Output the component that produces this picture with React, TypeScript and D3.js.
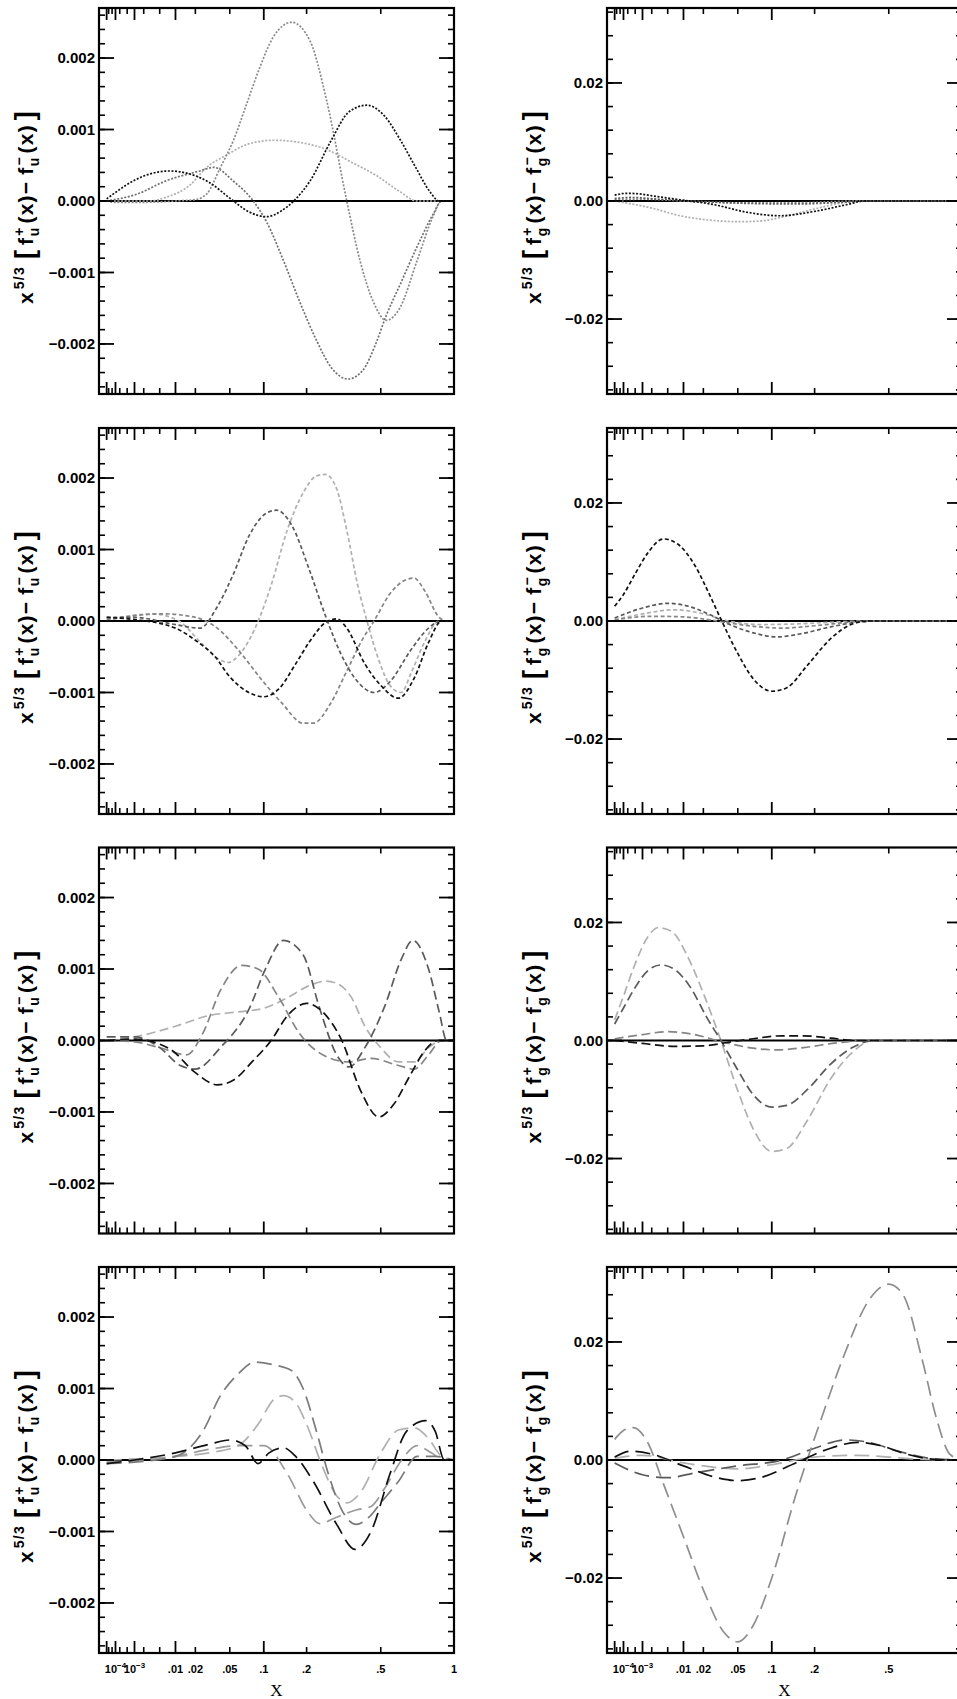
import React from "react";
import * as d3 from "d3";

// ---------- data (x, value) ----------
// Row 1 : dotted, u-quark (left) and gluon (right)
const r1uBlack = [[1e-5, 0.00003], [1e-4, 0.00012], [1e-3, 0.00029], [3e-3, 0.00038], [0.008, 0.00042], [0.015, 0.00039], [0.03, 0.00026], [0.05, 0.00004], [0.075, -0.00015], [0.105, -0.00022], [0.135, -0.00014], [0.165, 0], [0.21, 0.00028], [0.28, 0.00085], [0.35, 0.00125], [0.43, 0.00134], [0.52, 0.00119], [0.61, 0.00086], [0.71, 0.00047], [0.81, 0.00013], [0.88, 0], [1, 0]];
const r1uPeak = [[1e-5, 0], [1e-4, -0.00002], [1e-3, -0.00002], [0.01, 0], [0.02, 0.00002], [0.028, 0.0001], [0.04, 0.00047], [0.054, 0.00084], [0.072, 0.00136], [0.093, 0.00187], [0.118, 0.00229], [0.16, 0.0025], [0.21, 0.00224], [0.264, 0.0014], [0.34, 0], [0.397, -0.00083], [0.46, -0.0014], [0.53, -0.00167], [0.61, -0.00149], [0.72, -0.00083], [0.83, -0.00023], [0.9, 0], [1, 0]];
const r1uTrough = [[1e-5, 0], [1.3e-3, 0.0001], [0.0066, 0.00028], [0.023, 0.00042], [0.034, 0.00047], [0.054, 0.00028], [0.082, 0], [0.105, -0.00029], [0.14, -0.00083], [0.18, -0.0014], [0.23, -0.00195], [0.28, -0.00233], [0.345, -0.00249], [0.41, -0.00237], [0.475, -0.00199], [0.53, -0.0016], [0.61, -0.00117], [0.717, -0.00065], [0.835, -0.00018], [0.9, 0], [1, 0]];
const r1uLight = [[1e-5, 0], [3e-3, 0], [0.0066, 0.00005], [0.0167, 0.00022], [0.0279, 0.00047], [0.0473, 0.00065], [0.072, 0.00079], [0.118, 0.00085], [0.18, 0.00082], [0.264, 0.00072], [0.361, 0.00054], [0.475, 0.00036], [0.61, 0.00013], [0.717, 0], [1, 0]];

const r1gBlack = [[1e-5, 0.001], [1.7e-4, 0.0013], [8e-4, 0.0012], [2.2e-3, 0.00085], [8.7e-3, 0.0002], [0.027, -0.0006], [0.061, -0.0019], [0.116, -0.0025], [0.196, -0.0018], [0.31, -0.0006], [0.38, 0], [1, 0]];
const r1gLight = [[1e-5, 0], [2e-3, -0.0012], [8.7e-3, -0.0025], [0.027, -0.0033], [0.05, -0.0035], [0.08, -0.0034], [0.116, -0.0028], [0.196, -0.0014], [0.31, -0.0002], [0.38, 0], [1, 0]];
const r1gDark = [[1e-5, 0.0004], [3e-4, 0.0006], [3e-3, 0.0003], [0.02, -0.0001], [0.06, -0.0004], [0.15, -0.0005], [0.3, -0.0002], [0.4, 0], [1, 0]];
const r1gMid = [[1e-5, 0.0002], [1e-3, 0.0003], [0.01, 0], [0.05, -0.0003], [0.15, -0.0003], [0.35, 0], [1, 0]];

// Row 2 : short dashes
const r2uBlack = [[1e-5, 0.00005], [1e-3, 0.00002], [0.01, -0.0001], [0.02, -0.00027], [0.035, -0.0005], [0.05, -0.00078], [0.075, -0.001], [0.1, -0.00106], [0.13, -0.00095], [0.17, -0.0006], [0.21, -0.00028], [0.26, -0.00002], [0.3, 0.00003], [0.34, -0.0001], [0.42, -0.0006], [0.5, -0.0009], [0.6, -0.00108], [0.7, -0.0008], [0.8, -0.0003], [0.9, 0], [1, 0]];
const r2uDark = [[1e-5, 0.00005], [1e-3, 0.00005], [0.01, -0.00005], [0.023, -0.0001], [0.037, 0.0002], [0.054, 0.00065], [0.076, 0.0012], [0.103, 0.0015], [0.125, 0.00155], [0.16, 0.00134], [0.207, 0.00073], [0.259, 0.00008], [0.319, -0.00048], [0.387, -0.00085], [0.465, -0.001], [0.55, -0.00085], [0.68, -0.0004], [0.8, -0.0001], [0.9, 0], [1, 0]];
const r2uMid = [[1e-5, 0.00002], [5.8e-3, 0.0001], [0.02, 0.00005], [0.037, -0.0001], [0.06, -0.0004], [0.094, -0.0008], [0.137, -0.00115], [0.19, -0.00143], [0.22, -0.00143], [0.278, -0.00115], [0.34, -0.0007], [0.41, -0.00025], [0.465, 0], [0.55, 0.00038], [0.65, 0.00058], [0.7, 0.0006], [0.77, 0.00043], [0.88, 0.00005], [0.94, 0], [1, 0]];
const r2uLight = [[1e-5, 0], [3.3e-3, 0.0001], [0.0114, 0], [0.0234, -0.0003], [0.037, -0.00052], [0.048, -0.00058], [0.061, -0.00048], [0.085, -0.0001], [0.114, 0.0005], [0.149, 0.00127], [0.191, 0.0018], [0.23, 0.00203], [0.259, 0.00205], [0.298, 0.00187], [0.34, 0.00127], [0.387, 0.0005], [0.43, 0], [0.49, -0.00055], [0.55, -0.0009], [0.616, -0.001], [0.685, -0.0007], [0.77, -0.0003], [0.88, 0], [1, 0]];

const r2gBlack = [[1e-5, 0.0025], [1e-4, 0.0045], [5e-4, 0.008], [1.5e-3, 0.0115], [4e-3, 0.0139], [8e-3, 0.013], [0.015, 0.0095], [0.025, 0.004], [0.035, -0.0005], [0.05, -0.0055], [0.07, -0.0098], [0.1, -0.0119], [0.13, -0.0113], [0.18, -0.0075], [0.25, -0.003], [0.33, -0.0005], [0.4, 0], [1, 0]];
const r2gDark = [[1e-5, 0.0005], [1e-3, 0.0022], [5e-3, 0.003], [0.012, 0.0025], [0.025, 0.001], [0.04, -0.0005], [0.07, -0.002], [0.11, -0.0027], [0.16, -0.0022], [0.25, -0.001], [0.35, -0.0002], [0.45, 0], [1, 0]];
const r2gLight = [[1e-5, 0.0002], [1e-3, 0.0012], [7e-3, 0.0019], [0.02, 0.0012], [0.04, 0], [0.08, -0.0006], [0.15, -0.0005], [0.3, -0.0001], [0.4, 0], [1, 0]];
const r2gMid = [[1e-5, 0.0002], [2e-3, 0.0008], [0.01, 0.0007], [0.03, 0], [0.07, -0.0009], [0.12, -0.0012], [0.2, -0.0008], [0.35, -0.0001], [0.45, 0], [1, 0]];

// Row 3 : medium dashes
const r3uBlack = [[1e-5, 0], [1e-3, 0.00002], [0.008, -0.00012], [0.02, -0.00045], [0.037, -0.00062], [0.055, -0.00055], [0.08, -0.0003], [0.114, 0], [0.15, 0.00035], [0.2, 0.00052], [0.25, 0.0004], [0.32, 0], [0.4, -0.0007], [0.49, -0.00107], [0.57, -0.0009], [0.67, -0.0005], [0.77, -0.00015], [0.87, 0], [1, 0]];
const r3uDark = [[1e-5, 0.00005], [1e-3, 0.00005], [0.005, -0.0001], [0.012, -0.00035], [0.02, -0.0004], [0.04, -0.0001], [0.076, 0.00045], [0.103, 0.001], [0.14, 0.0014], [0.19, 0.0012], [0.24, 0.00045], [0.3, -0.0002], [0.35, -0.00037], [0.42, -0.0001], [0.52, 0.00047], [0.62, 0.00115], [0.69, 0.0014], [0.8, 0.001], [0.88, 0.0004], [0.94, 0], [1, 0]];
const r3uMid = [[1e-5, 0], [1e-3, -0.00002], [0.005, -0.0001], [0.015, -0.0002], [0.025, 0.0001], [0.04, 0.0007], [0.065, 0.00105], [0.09, 0.001], [0.13, 0.0006], [0.18, 0.0001], [0.25, -0.0002], [0.35, -0.0003], [0.45, -0.00025], [0.6, -0.00035], [0.7, -0.0004], [0.8, -0.0002], [0.9, 0], [1, 0]];
const r3uLight = [[1e-5, 0], [1e-3, 0.00005], [0.01, 0.0002], [0.03, 0.00035], [0.06, 0.0004], [0.1, 0.00045], [0.15, 0.0006], [0.2, 0.00075], [0.26, 0.00083], [0.3, 0.0008], [0.36, 0.0006], [0.42, 0.0002], [0.5, -0.0001], [0.6, -0.0003], [0.7, -0.0003], [0.8, -0.0001], [0.9, 0], [1, 0]];

const r3gLight = [[1e-5, 0.0035], [1e-4, 0.0075], [5e-4, 0.013], [1.5e-3, 0.0175], [3e-3, 0.0191], [6e-3, 0.0185], [0.012, 0.014], [0.02, 0.008], [0.033, 0], [0.05, -0.0085], [0.07, -0.015], [0.1, -0.0188], [0.13, -0.0183], [0.18, -0.0135], [0.25, -0.0065], [0.33, -0.002], [0.42, 0], [1, 0]];
const r3gDark = [[1e-5, 0.0028], [1e-4, 0.0055], [5e-4, 0.009], [1.5e-3, 0.0118], [3.5e-3, 0.0128], [7e-3, 0.012], [0.013, 0.009], [0.022, 0.004], [0.033, 0], [0.05, -0.005], [0.07, -0.0092], [0.1, -0.0113], [0.13, -0.011], [0.18, -0.0083], [0.25, -0.004], [0.33, -0.0012], [0.42, 0], [1, 0]];
const r3gMid = [[1e-5, 0.0003], [1e-3, 0.001], [5e-3, 0.0015], [0.015, 0.001], [0.03, 0], [0.07, -0.0013], [0.11, -0.0016], [0.17, -0.0012], [0.27, -0.0004], [0.38, 0], [1, 0]];
const r3gBlack = [[1e-5, 0], [1e-3, -0.0005], [7e-3, -0.001], [0.02, -0.0009], [0.04, -0.0003], [0.07, 0.0003], [0.12, 0.0008], [0.17, 0.0008], [0.25, 0.0004], [0.35, 0], [1, 0]];

// Row 4 : long dashes
const r4uMid = [[1e-5, -0.00005], [1e-3, -0.00003], [0.01, 0.00005], [0.025, 0.0004], [0.04, 0.0009], [0.06, 0.0012], [0.085, 0.00137], [0.12, 0.00133], [0.16, 0.00125], [0.19, 0.001], [0.23, 0.0004], [0.27, -0.0002], [0.32, -0.0007], [0.38, -0.0009], [0.44, -0.0008], [0.5, -0.0006], [0.6, -0.0003], [0.72, 0.00005], [0.85, 0.00005], [1, 0]];
const r4uBlack = [[1e-5, -0.00005], [1e-3, 0], [0.01, 0.0001], [0.03, 0.00022], [0.05, 0.00028], [0.07, 0.0002], [0.09, -0.00005], [0.11, 0.0001], [0.14, 0.00017], [0.17, 0.00005], [0.22, -0.0003], [0.3, -0.0009], [0.375, -0.00125], [0.45, -0.001], [0.55, -0.0002], [0.65, 0.0004], [0.78, 0.00055], [0.85, 0.0004], [0.92, 0], [1, 0]];
const r4uLight = [[1e-5, 0], [0.01, 0.00005], [0.03, 0.0001], [0.06, 0.0002], [0.09, 0.0005], [0.12, 0.00085], [0.14, 0.0009], [0.17, 0.0008], [0.2, 0.0005], [0.25, -0.0001], [0.3, -0.0005], [0.34, -0.0006], [0.4, -0.00045], [0.5, 0.0001], [0.6, 0.00042], [0.7, 0.00045], [0.8, 0.0003], [0.9, 0.00005], [1, 0]];
const r4uGrey = [[1e-5, -0.00003], [0.01, 0.00005], [0.03, 0.00015], [0.06, 0.0002], [0.1, 0.0002], [0.15, -0.0002], [0.2, -0.0007], [0.24, -0.00089], [0.3, -0.0008], [0.38, -0.0007], [0.45, -0.00065], [0.52, -0.0004], [0.62, 0], [0.72, 0.0002], [0.82, 0.0001], [0.92, 0], [1, 0]];

const r4gBig = [[1e-5, 0.0035], [1e-4, 0.005], [4e-4, 0.0055], [1.5e-3, 0.003], [4e-3, -0.004], [0.01, -0.013], [0.02, -0.022], [0.035, -0.029], [0.05, -0.0308], [0.07, -0.028], [0.1, -0.02], [0.15, -0.006], [0.22, 0.007], [0.3, 0.018], [0.4, 0.027], [0.5, 0.0298], [0.58, 0.028], [0.7, 0.017], [0.8, 0.007], [0.9, 0.001], [1, 0]];
const r4gBlack = [[1e-5, 0.0005], [3e-4, 0.0015], [2e-3, 0.001], [0.01, -0.001], [0.03, -0.003], [0.05, -0.0035], [0.08, -0.003], [0.15, -0.0005], [0.25, 0.002], [0.35, 0.003], [0.45, 0.0025], [0.6, 0.001], [0.75, 0.0002], [0.9, 0], [1, 0]];
const r4gDark = [[1e-5, -0.0005], [1e-3, -0.0025], [5e-3, -0.003], [0.015, -0.0022], [0.05, -0.001], [0.12, 0], [0.2, 0.002], [0.3, 0.0034], [0.4, 0.003], [0.55, 0.0015], [0.75, 0.0003], [1, 0]];
const r4gLight = [[1e-5, 0.0003], [1e-3, 0.0008], [0.01, -0.0005], [0.05, -0.0015], [0.1, -0.0008], [0.2, 0.0005], [0.35, 0.0008], [0.5, 0.0005], [0.7, 0.0001], [1, 0]];

// ---------- axes ----------
const xMajorTicks = [1e-5, 1e-4, 1e-3, 0.01, 0.1];
const xMinorTicks = [2e-5, 5e-5, 2e-4, 5e-4, 2e-3, 5e-3, 0.02, 0.05, 0.2, 0.5];
const xTickLabels = [
  { v: 1e-4, t: "10", sup: "−4" },
  { v: 1e-3, t: "10", sup: "−3" },
  { v: 0.01, t: ".01" },
  { v: 0.02, t: ".02" },
  { v: 0.05, t: ".05" },
  { v: 0.1, t: ".1" },
  { v: 0.2, t: ".2" },
  { v: 0.5, t: ".5" },
  { v: 1, t: "1" },
];
const uLimit = 0.0027;
const uMajor = [-0.002, -0.001, 0, 0.001, 0.002];
const uMajorLabels = ["−0.002", "−0.001", "0.000", "0.001", "0.002"];
const gLimit = 0.0327;
const gMajor = [-0.02, 0, 0.02];
const gMajorLabels = ["−0.02", "0.00", "0.02"];

const BLACK = "#111111";
const DARK = "#5a5a5a";
const MID = "#858585";
const LIGHT = "#b0b0b0";

const DASHES = ["2,1.6", "4,2.6", "9,4.5", "15,7"];

const panels = [
  { row: 0, col: 0, series: [[r1uLight, LIGHT], [r1uTrough, "#707070"], [r1uPeak, "#8a8a8a"], [r1uBlack, BLACK]] },
  { row: 0, col: 1, series: [[r1gLight, LIGHT], [r1gMid, MID], [r1gDark, DARK], [r1gBlack, BLACK]] },
  { row: 1, col: 0, series: [[r2uLight, LIGHT], [r2uMid, MID], [r2uDark, DARK], [r2uBlack, BLACK]] },
  { row: 1, col: 1, series: [[r2gLight, LIGHT], [r2gMid, MID], [r2gDark, DARK], [r2gBlack, BLACK]] },
  { row: 2, col: 0, series: [[r3uLight, LIGHT], [r3uMid, MID], [r3uDark, DARK], [r3uBlack, BLACK]] },
  { row: 2, col: 1, series: [[r3gLight, LIGHT], [r3gMid, MID], [r3gDark, DARK], [r3gBlack, BLACK]] },
  { row: 3, col: 0, series: [[r4uLight, LIGHT], [r4uGrey, "#9a9a9a"], [r4uMid, "#7a7a7a"], [r4uBlack, BLACK]] },
  { row: 3, col: 1, series: [[r4gLight, LIGHT], [r4gDark, DARK], [r4gBig, "#8e8e8e"], [r4gBlack, BLACK]] },
];

// ---------- layout ----------
const W = 957;
const H = 1699;
const PW = 355;
const PH = 386;
const COL_X = [99, 607];
const ROW_Y = [8, 428, 847.5, 1267];
const FONT = "'Liberation Sans', Arial, Helvetica, sans-serif";

function YTitle({ cx, cy, flavour }: { cx: number; cy: number; flavour: string }) {
  return (
    <text
      transform={`translate(${cx},${cy}) rotate(-90)`}
      textAnchor="middle"
      fontFamily={FONT}
      fontWeight="bold"
      fontSize={21}
      letterSpacing={1.2}
      fill="#000"
    >
      <tspan>x</tspan>
      <tspan fontSize={14} dy={-9} dx={2}>5/3</tspan>
      <tspan fontSize={27} dy={10} dx={7}>[</tspan>
      <tspan dx={4} dy={-1}>f</tspan>
      <tspan fontSize={14} dy={-9} dx={1}>+</tspan>
      <tspan fontSize={14} dy={15} dx={-10}>{flavour}</tspan>
      <tspan dy={-6} dx={3}>(x)</tspan>
      <tspan>−</tspan>
      <tspan dx={6}>f</tspan>
      <tspan fontSize={14} dy={-9} dx={1}>−</tspan>
      <tspan fontSize={14} dy={15} dx={-10}>{flavour}</tspan>
      <tspan dy={-6} dx={3}>(x)</tspan>
      <tspan fontSize={27} dx={4} dy={1}>]</tspan>
    </text>
  );
}

function Panel({ p, idx }: { p: any; idx: number }) {
  const x0 = COL_X[p.col];
  const y0 = ROW_Y[p.row];
  const isU = p.col === 0;
  const lim = isU ? uLimit : gLimit;
  const xs = d3.scalePow().exponent(1 / 3).domain([0, 1]).range([x0, x0 + PW]);
  const ys = d3.scaleLinear().domain([-lim, lim]).range([y0 + PH, y0]);
  const line = d3
    .line<number[]>()
    .x((d) => xs(d[0]))
    .y((d) => ys(d[1]))
    .curve(d3.curveMonotoneX);

  const minorStep = isU ? 0.0002 : 0.004;
  const nMinor = Math.floor(lim / minorStep);
  const minor: number[] = [];
  for (let k = -nMinor; k <= nMinor; k++) minor.push(k * minorStep);
  const majors = isU ? uMajor : gMajor;
  const majorLabels = isU ? uMajorLabels : gMajorLabels;
  const clipId = `clip${idx}`;
  const bottomRow = p.row === 3;

  return (
    <g>
      <defs>
        <clipPath id={clipId}>
          <rect x={x0} y={y0} width={PW} height={PH} />
        </clipPath>
      </defs>
      <g clipPath={`url(#${clipId})`}>
        <line x1={xs(0)} x2={xs(1)} y1={ys(0)} y2={ys(0)} stroke="#000" strokeWidth={2.2} />
        {p.series.map((s: any, i: number) => (
          <path
            key={i}
            d={line(s[0]) || ""}
            fill="none"
            stroke={s[1]}
            strokeWidth={1.7}
            strokeDasharray={DASHES[p.row]}
          />
        ))}
      </g>
      {minor.map((v, i) => (
        <g key={"ym" + i}>
          <line x1={x0} x2={x0 + 6} y1={ys(v)} y2={ys(v)} stroke="#000" strokeWidth={1.6} />
          <line x1={x0 + PW} x2={x0 + PW - 6} y1={ys(v)} y2={ys(v)} stroke="#000" strokeWidth={1.6} />
        </g>
      ))}
      {majors.map((v, i) => (
        <g key={"yM" + i}>
          <line x1={x0} x2={x0 + 15} y1={ys(v)} y2={ys(v)} stroke="#000" strokeWidth={1.8} />
          <line x1={x0 + PW} x2={x0 + PW - 15} y1={ys(v)} y2={ys(v)} stroke="#000" strokeWidth={1.8} />
          <text
            x={x0 - 4}
            y={ys(v)}
            dy="0.36em"
            textAnchor="end"
            fontFamily={FONT}
            fontWeight="bold"
            fontSize={15}
            fill="#000"
          >
            {majorLabels[i]}
          </text>
        </g>
      ))}
      {xMajorTicks.map((v, i) => (
        <g key={"xM" + i}>
          <line x1={xs(v)} x2={xs(v)} y1={y0 + PH} y2={y0 + PH - 12} stroke="#000" strokeWidth={1.8} />
          <line x1={xs(v)} x2={xs(v)} y1={y0} y2={y0 + 12} stroke="#000" strokeWidth={1.8} />
        </g>
      ))}
      {xMinorTicks.map((v, i) => (
        <g key={"xm" + i}>
          <line x1={xs(v)} x2={xs(v)} y1={y0 + PH} y2={y0 + PH - 6} stroke="#000" strokeWidth={1.6} />
          <line x1={xs(v)} x2={xs(v)} y1={y0} y2={y0 + 6} stroke="#000" strokeWidth={1.6} />
        </g>
      ))}
      <rect x={x0} y={y0} width={PW} height={PH} fill="none" stroke="#000" strokeWidth={2.2} />
      {bottomRow &&
        xTickLabels.map((l, i) => (
          <text
            key={"xl" + i}
            x={xs(l.v)}
            y={y0 + PH + 20}
            textAnchor="middle"
            fontFamily={FONT}
            fontWeight="bold"
            fontSize={11}
            fill="#000"
          >
            {l.t}
            {l.sup ? (
              <tspan fontSize={8} dy={-5}>
                {l.sup}
              </tspan>
            ) : null}
          </text>
        ))}
      {bottomRow && (
        <text
          x={x0 + PW / 2}
          y={y0 + PH + 43}
          textAnchor="middle"
          fontFamily="'Liberation Serif', 'Times New Roman', serif"
          fontSize={17}
          fill="#000"
        >
          X
        </text>
      )}
      <YTitle cx={x0 - 66} cy={y0 + PH / 2 + 6} flavour={isU ? "u" : "g"} />
    </g>
  );
}

export default function App() {
  return (
    <svg
      width={W}
      height={H}
      viewBox={`0 0 ${W} ${H}`}
      style={{ position: "absolute", left: 0, top: 0, display: "block", background: "#fff" }}
    >
      <rect x={0} y={0} width={W} height={H} fill="#fff" />
      {panels.map((p, i) => (
        <Panel key={i} p={p} idx={i} />
      ))}
    </svg>
  );
}
